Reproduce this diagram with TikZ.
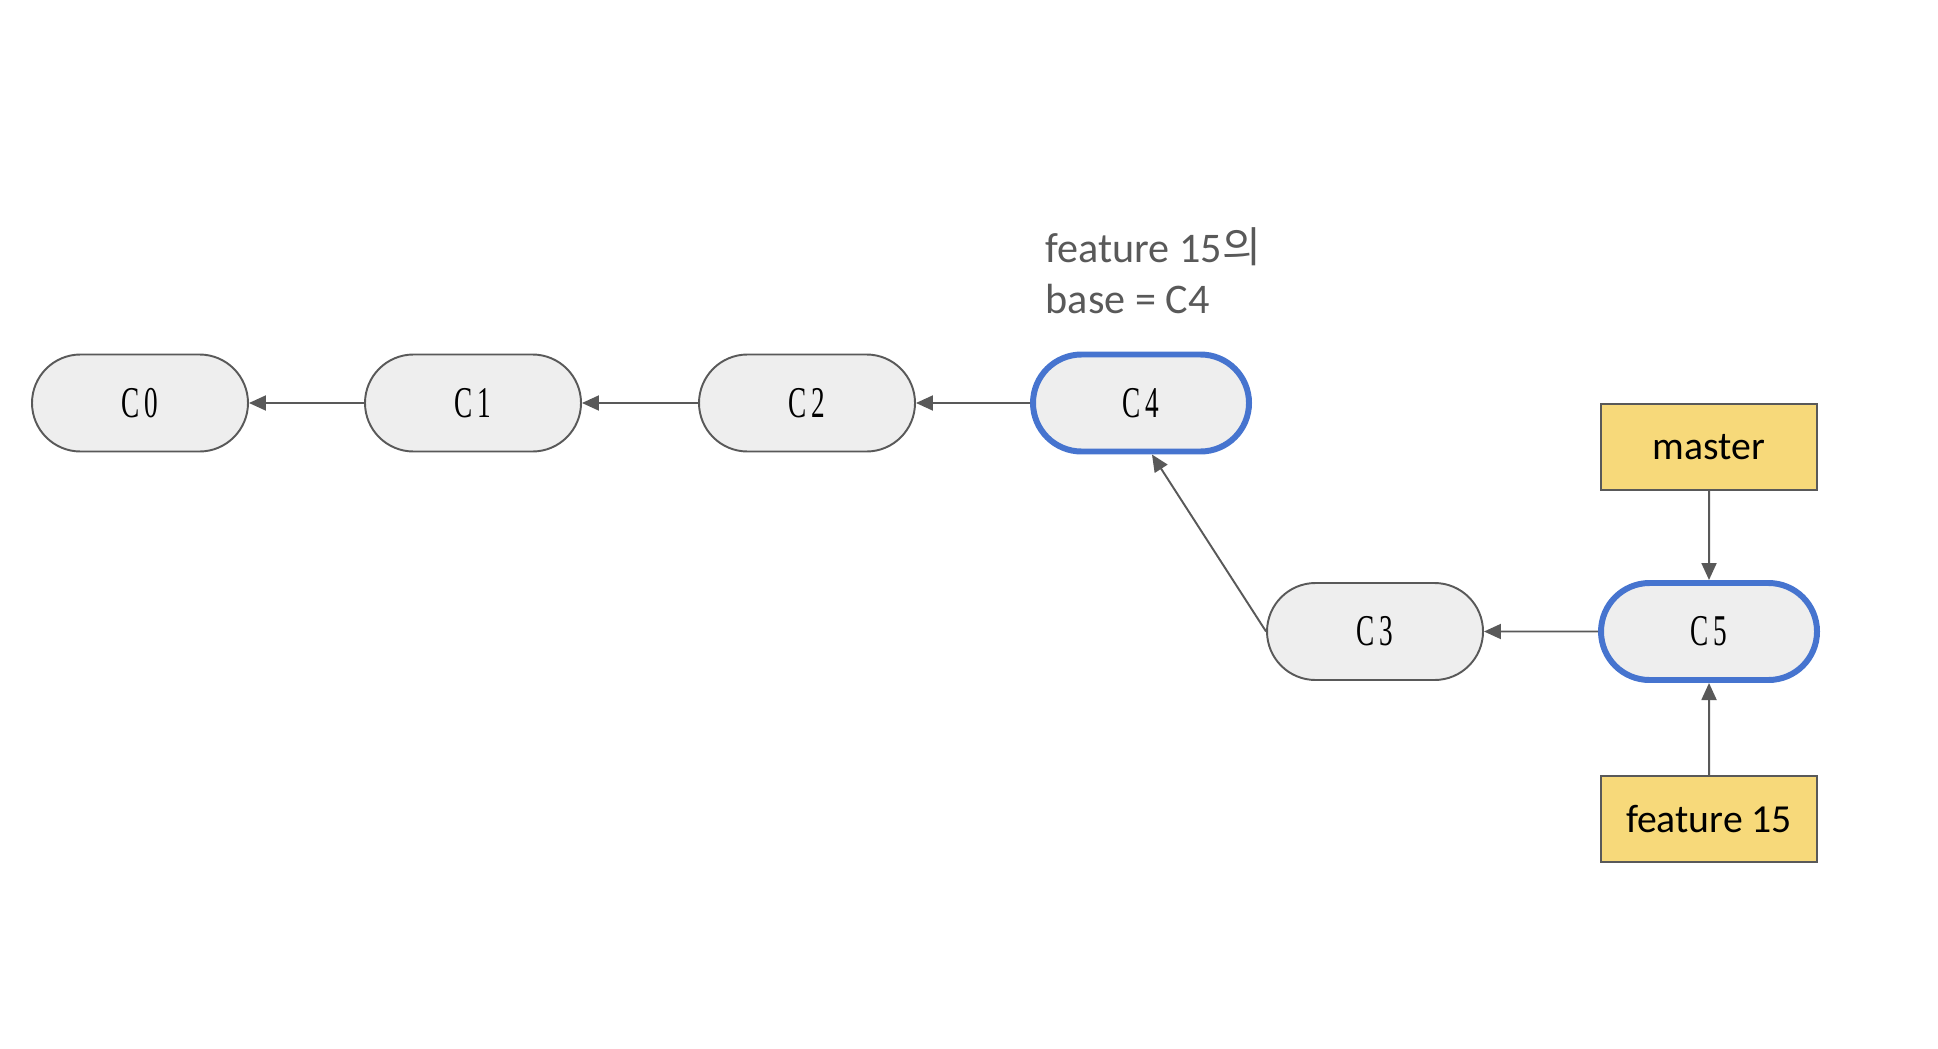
\documentclass[tikz,border=0pt]{standalone}
\usepackage{fontspec}
\setmainfont{Carlito}
\newfontfamily\krfont{Noto Sans CJK KR}
\newfontfamily\commitfont[FakeStretch=0.62,LetterSpace=10]{Liberation Serif}
\usetikzlibrary{shapes.misc}
\usetikzlibrary{arrows.meta}

\definecolor{linegray}{HTML}{595959}
\definecolor{commitfill}{HTML}{EEEEEE}
\definecolor{headblue}{HTML}{4674CF}
\definecolor{branchyellow}{HTML}{F7D97A}

\tikzset{
  commit/.style={rounded rectangle, draw=linegray, fill=commitfill, line width=0.55pt,
    minimum width=2.16cm, minimum height=0.97cm, inner sep=0pt,
    font=\commitfont\fontsize{12.5}{14}\selectfont},
  head/.style={commit, draw=headblue, line width=1.7pt},
  branch/.style={rectangle, draw=linegray, fill=branchyellow, line width=0.55pt,
    minimum width=2.16cm, minimum height=0.86cm, inner sep=0pt,
    font=\fontsize{11.3}{13}\selectfont},
  arr/.style={draw=linegray, line width=0.55pt, -{Triangle[length=0.17cm,width=0.15cm]}, fill=linegray}
}

\begin{document}
\begin{tikzpicture}
\useasboundingbox (0,0) rectangle (19.38,-10.48);

\node[commit] (c0) at (1.40,-4.03) {C0};
\node[commit] (c1) at (4.73,-4.03) {C1};
\node[commit] (c2) at (8.07,-4.03) {C2};
\node[head] (c4) at (11.41,-4.03) {C4};
\node[commit] (c3) at (13.75,-6.315) {C3};
\node[head] (c5) at (17.09,-6.315) {C5};

\node[branch] (master) at (17.09,-4.47) {master};
\node[branch] (feat) at (17.09,-8.19) {feature 15};

% base label
\node[anchor=base west, align=left, text=linegray, inner sep=0pt,
  font=\fontsize{12}{14.5}\selectfont] (baselbl) at (10.45,-3.13)
  {feature 15{\krfont 의}\\base = C4};

\draw[arr] (c1) -- (c0);
\draw[arr] (c2) -- (c1);
\draw[arr] (c4) -- (c2);
\draw[arr] (c3.west) -- (c4.-78);
\draw[arr] (c5) -- (c3);
\draw[arr] (master.south) -- (c5);
\draw[arr] (feat.north) -- (c5);

\end{tikzpicture}
\end{document}
